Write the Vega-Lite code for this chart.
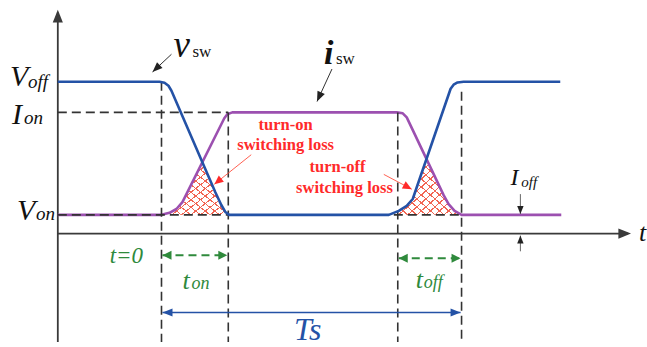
{
  "$schema": "https://vega.github.io/schema/vega-lite/v6.json",
  "width": 647,
  "height": 347,
  "autosize": {"type": "fit", "contains": "padding"},
  "padding": 0,
  "background": "white",
  "config": {"view": {"stroke": null}},
  "datasets": {
    "vsw": [
      {"t": -3.467, "v": 1.0}, {"t": -0.067, "v": 1.0}, {"t": 0.1, "v": 0.993}, {"t": 0.233, "v": 0.97},
      {"t": 0.333, "v": 0.933}, {"t": 1.8, "v": 0.17}, {"t": 2.0, "v": 0.074}, {"t": 2.133, "v": 0.022},
      {"t": 2.267, "v": 0}, {"t": 7.6, "v": 0}, {"t": 7.933, "v": 0.03}, {"t": 8.2, "v": 0.067},
      {"t": 8.4, "v": 0.119}, {"t": 9.667, "v": 0.948}, {"t": 9.767, "v": 0.978}, {"t": 9.9, "v": 0.995},
      {"t": 10.1, "v": 1.0}, {"t": 13.333, "v": 1.0}
    ],
    "isw": [
      {"t": -3.467, "v": 0}, {"t": 0, "v": 0}, {"t": 0.267, "v": 0.015}, {"t": 0.5, "v": 0.044},
      {"t": 0.7, "v": 0.096}, {"t": 2.1, "v": 0.726}, {"t": 2.2, "v": 0.756}, {"t": 2.367, "v": 0.77},
      {"t": 7.867, "v": 0.77}, {"t": 8.067, "v": 0.763}, {"t": 8.2, "v": 0.733}, {"t": 9.433, "v": 0.148},
      {"t": 9.6, "v": 0.081}, {"t": 9.8, "v": 0.03}, {"t": 10.033, "v": 0}, {"t": 13.367, "v": 0}
    ],
    "loss": [
      {"edge": "on", "t": 0, "v": 0}, {"edge": "on", "t": 0.267, "v": 0.015}, {"edge": "on", "t": 0.5, "v": 0.044},
      {"edge": "on", "t": 0.7, "v": 0.096}, {"edge": "on", "t": 1.367, "v": 0.396}, {"edge": "on", "t": 1.8, "v": 0.17},
      {"edge": "on", "t": 2.0, "v": 0.074}, {"edge": "on", "t": 2.133, "v": 0.022}, {"edge": "on", "t": 2.233, "v": 0},
      {"edge": "off", "t": 7.9, "v": 0.012}, {"edge": "off", "t": 7.933, "v": 0.03}, {"edge": "off", "t": 8.2, "v": 0.067},
      {"edge": "off", "t": 8.4, "v": 0.119}, {"edge": "off", "t": 8.86, "v": 0.42}, {"edge": "off", "t": 9.433, "v": 0.148},
      {"edge": "off", "t": 9.6, "v": 0.081}, {"edge": "off", "t": 9.8, "v": 0.03}, {"edge": "off", "t": 10.033, "v": 0}
    ],
    "rules": [
      {"kind": "axis", "t": -3.467, "v": -0.956, "t2": -3.467, "v2": 1.52},
      {"kind": "axis", "t": -3.467, "v": -0.141, "t2": 15.6, "v2": -0.141},
      {"kind": "guide", "t": -3.467, "v": 0.77, "t2": 2.233, "v2": 0.77},
      {"kind": "guide", "t": -3.467, "v": 0, "t2": 10.033, "v2": 0},
      {"kind": "guide", "t": 0, "v": 1.0, "t2": 0, "v2": -0.956},
      {"kind": "guide", "t": 2.233, "v": 0.77, "t2": 2.233, "v2": -0.956},
      {"kind": "guide", "t": 7.9, "v": 0.77, "t2": 7.9, "v2": -0.956},
      {"kind": "guide", "t": 10.033, "v": 0.926, "t2": 10.033, "v2": -0.956},
      {"kind": "pointer", "t": 0.333, "v": 1.207, "t2": -0.3, "v2": 1.074},
      {"kind": "pointer", "t": 5.7, "v": 1.096, "t2": 5.2, "v2": 0.852},
      {"kind": "marker", "t": 12.0, "v": 0.156, "t2": 12.0, "v2": 0.007},
      {"kind": "marker", "t": 12.0, "v": -0.274, "t2": 12.0, "v2": -0.156},
      {"kind": "callout", "t": 3.0, "v": 0.452, "t2": 1.767, "v2": 0.23},
      {"kind": "callout", "t": 7.433, "v": 0.304, "t2": 8.367, "v2": 0.193},
      {"kind": "switch", "t": 0.033, "v": -0.304, "t2": 2.2, "v2": -0.304},
      {"kind": "switch", "t": 7.933, "v": -0.326, "t2": 10.0, "v2": -0.326},
      {"kind": "period", "t": 0.033, "v": -0.733, "t2": 10.0, "v2": -0.733}
    ],
    "heads": [
      {"kind": "axis", "t": -3.467, "v": 1.541, "dir": 0},
      {"kind": "axis", "t": 15.7, "v": -0.141, "dir": 90},
      {"kind": "pointer", "t": -0.3, "v": 1.074, "dir": 226.5},
      {"kind": "pointer", "t": 5.2, "v": 0.852, "dir": 204.4},
      {"kind": "marker", "t": 12.0, "v": 0.007, "dir": 180},
      {"kind": "marker", "t": 12.0, "v": -0.156, "dir": 0},
      {"kind": "callout", "t": 1.767, "v": 0.23, "dir": 231},
      {"kind": "callout", "t": 8.367, "v": 0.193, "dir": 118},
      {"kind": "switch", "t": 0.033, "v": -0.304, "dir": 270},
      {"kind": "switch", "t": 2.2, "v": -0.304, "dir": 90},
      {"kind": "switch", "t": 7.933, "v": -0.326, "dir": 270},
      {"kind": "switch", "t": 10.0, "v": -0.326, "dir": 90},
      {"kind": "period", "t": 0.033, "v": -0.733, "dir": 270},
      {"kind": "period", "t": 10.0, "v": -0.733, "dir": 90}
    ],
    "labels": [
      {"role": "level", "t": -5.067, "v": 0.97, "s": "V"},
      {"role": "level", "t": -5.0, "v": 0.681, "s": "I"},
      {"role": "level", "t": -4.833, "v": -0.037, "s": "V"},
      {"role": "levelSub", "t": -4.467, "v": 0.956, "s": "off"},
      {"role": "levelSub", "t": -4.6, "v": 0.681, "s": "on"},
      {"role": "levelSub", "t": -4.2, "v": -0.037, "s": "on"},
      {"role": "voltage", "t": 0.4, "v": 1.185, "s": "v"},
      {"role": "current", "t": 5.433, "v": 1.133, "s": "i"},
      {"role": "signalSub", "t": 1.033, "v": 1.185, "s": "sw"},
      {"role": "signalSub", "t": 5.833, "v": 1.133, "s": "sw"},
      {"role": "leak", "t": 11.667, "v": 0.222, "s": "I"},
      {"role": "leakSub", "t": 12.033, "v": 0.207, "s": "off"},
      {"role": "axisName", "t": 15.967, "v": -0.2, "s": "t"},
      {"role": "origin", "t": -1.733, "v": -0.363, "s": "t=0"},
      {"role": "interval", "t": 0.7, "v": -0.556, "s": "t"},
      {"role": "interval", "t": 8.5, "v": -0.548, "s": "t"},
      {"role": "intervalSub", "t": 1.0, "v": -0.556, "s": "on"},
      {"role": "intervalSub", "t": 8.767, "v": -0.548, "s": "off"},
      {"role": "period", "t": 4.433, "v": -0.941, "s": "Ts"},
      {"role": "loss", "t": 4.15, "v": 0.637, "s": "turn-on"},
      {"role": "loss", "t": 4.15, "v": 0.489, "s": "switching loss"},
      {"role": "loss", "t": 5.883, "v": 0.319, "s": "turn-off"},
      {"role": "loss", "t": 6.117, "v": 0.163, "s": "switching loss"}
    ]
  },
  "encoding": {
    "x": {"field": "t", "type": "quantitative", "scale": {"domain": [-5.4, 16.1667], "nice": false, "zero": false}, "axis": null},
    "y": {"field": "v", "type": "quantitative", "scale": {"domain": [-0.9556, 1.6148], "nice": false, "zero": false}, "axis": null}
  },
  "layer": [
    {
      "data": {"name": "loss"},
      "mark": {"type": "area", "strokeWidth": 0, "fill": {"gradient": "linear", "x1": 0, "y1": 0, "x2": 1, "y2": 1, "stops": [
        {"offset": 0, "color": "#f26552"}, {"offset": 0.012, "color": "#f26552"}, {"offset": 0.012, "color": "rgba(255,255,255,0)"}, {"offset": 0.0714, "color": "rgba(255,255,255,0)"},
        {"offset": 0.0714, "color": "#f26552"}, {"offset": 0.0834, "color": "#f26552"}, {"offset": 0.0834, "color": "rgba(255,255,255,0)"}, {"offset": 0.1429, "color": "rgba(255,255,255,0)"},
        {"offset": 0.1429, "color": "#f26552"}, {"offset": 0.1549, "color": "#f26552"}, {"offset": 0.1549, "color": "rgba(255,255,255,0)"}, {"offset": 0.2143, "color": "rgba(255,255,255,0)"},
        {"offset": 0.2143, "color": "#f26552"}, {"offset": 0.2263, "color": "#f26552"}, {"offset": 0.2263, "color": "rgba(255,255,255,0)"}, {"offset": 0.2857, "color": "rgba(255,255,255,0)"},
        {"offset": 0.2857, "color": "#f26552"}, {"offset": 0.2977, "color": "#f26552"}, {"offset": 0.2977, "color": "rgba(255,255,255,0)"}, {"offset": 0.3571, "color": "rgba(255,255,255,0)"},
        {"offset": 0.3571, "color": "#f26552"}, {"offset": 0.3691, "color": "#f26552"}, {"offset": 0.3691, "color": "rgba(255,255,255,0)"}, {"offset": 0.4286, "color": "rgba(255,255,255,0)"},
        {"offset": 0.4286, "color": "#f26552"}, {"offset": 0.4406, "color": "#f26552"}, {"offset": 0.4406, "color": "rgba(255,255,255,0)"}, {"offset": 0.5, "color": "rgba(255,255,255,0)"},
        {"offset": 0.5, "color": "#f26552"}, {"offset": 0.512, "color": "#f26552"}, {"offset": 0.512, "color": "rgba(255,255,255,0)"}, {"offset": 0.5714, "color": "rgba(255,255,255,0)"},
        {"offset": 0.5714, "color": "#f26552"}, {"offset": 0.5834, "color": "#f26552"}, {"offset": 0.5834, "color": "rgba(255,255,255,0)"}, {"offset": 0.6429, "color": "rgba(255,255,255,0)"},
        {"offset": 0.6429, "color": "#f26552"}, {"offset": 0.6549, "color": "#f26552"}, {"offset": 0.6549, "color": "rgba(255,255,255,0)"}, {"offset": 0.7143, "color": "rgba(255,255,255,0)"},
        {"offset": 0.7143, "color": "#f26552"}, {"offset": 0.7263, "color": "#f26552"}, {"offset": 0.7263, "color": "rgba(255,255,255,0)"}, {"offset": 0.7857, "color": "rgba(255,255,255,0)"},
        {"offset": 0.7857, "color": "#f26552"}, {"offset": 0.7977, "color": "#f26552"}, {"offset": 0.7977, "color": "rgba(255,255,255,0)"}, {"offset": 0.8571, "color": "rgba(255,255,255,0)"},
        {"offset": 0.8571, "color": "#f26552"}, {"offset": 0.8691, "color": "#f26552"}, {"offset": 0.8691, "color": "rgba(255,255,255,0)"}, {"offset": 0.9286, "color": "rgba(255,255,255,0)"},
        {"offset": 0.9286, "color": "#f26552"}, {"offset": 0.9406, "color": "#f26552"}, {"offset": 0.9406, "color": "rgba(255,255,255,0)"}, {"offset": 1, "color": "rgba(255,255,255,0)"}
      ]}},
      "encoding": {"y2": {"datum": 0}, "detail": {"field": "edge"}}
    },
    {
      "data": {"name": "loss"},
      "mark": {"type": "area", "strokeWidth": 0, "fill": {"gradient": "linear", "x1": 0, "y1": 1, "x2": 1, "y2": 0, "stops": [
        {"offset": 0, "color": "#f26552"}, {"offset": 0.012, "color": "#f26552"}, {"offset": 0.012, "color": "rgba(255,255,255,0)"}, {"offset": 0.0714, "color": "rgba(255,255,255,0)"},
        {"offset": 0.0714, "color": "#f26552"}, {"offset": 0.0834, "color": "#f26552"}, {"offset": 0.0834, "color": "rgba(255,255,255,0)"}, {"offset": 0.1429, "color": "rgba(255,255,255,0)"},
        {"offset": 0.1429, "color": "#f26552"}, {"offset": 0.1549, "color": "#f26552"}, {"offset": 0.1549, "color": "rgba(255,255,255,0)"}, {"offset": 0.2143, "color": "rgba(255,255,255,0)"},
        {"offset": 0.2143, "color": "#f26552"}, {"offset": 0.2263, "color": "#f26552"}, {"offset": 0.2263, "color": "rgba(255,255,255,0)"}, {"offset": 0.2857, "color": "rgba(255,255,255,0)"},
        {"offset": 0.2857, "color": "#f26552"}, {"offset": 0.2977, "color": "#f26552"}, {"offset": 0.2977, "color": "rgba(255,255,255,0)"}, {"offset": 0.3571, "color": "rgba(255,255,255,0)"},
        {"offset": 0.3571, "color": "#f26552"}, {"offset": 0.3691, "color": "#f26552"}, {"offset": 0.3691, "color": "rgba(255,255,255,0)"}, {"offset": 0.4286, "color": "rgba(255,255,255,0)"},
        {"offset": 0.4286, "color": "#f26552"}, {"offset": 0.4406, "color": "#f26552"}, {"offset": 0.4406, "color": "rgba(255,255,255,0)"}, {"offset": 0.5, "color": "rgba(255,255,255,0)"},
        {"offset": 0.5, "color": "#f26552"}, {"offset": 0.512, "color": "#f26552"}, {"offset": 0.512, "color": "rgba(255,255,255,0)"}, {"offset": 0.5714, "color": "rgba(255,255,255,0)"},
        {"offset": 0.5714, "color": "#f26552"}, {"offset": 0.5834, "color": "#f26552"}, {"offset": 0.5834, "color": "rgba(255,255,255,0)"}, {"offset": 0.6429, "color": "rgba(255,255,255,0)"},
        {"offset": 0.6429, "color": "#f26552"}, {"offset": 0.6549, "color": "#f26552"}, {"offset": 0.6549, "color": "rgba(255,255,255,0)"}, {"offset": 0.7143, "color": "rgba(255,255,255,0)"},
        {"offset": 0.7143, "color": "#f26552"}, {"offset": 0.7263, "color": "#f26552"}, {"offset": 0.7263, "color": "rgba(255,255,255,0)"}, {"offset": 0.7857, "color": "rgba(255,255,255,0)"},
        {"offset": 0.7857, "color": "#f26552"}, {"offset": 0.7977, "color": "#f26552"}, {"offset": 0.7977, "color": "rgba(255,255,255,0)"}, {"offset": 0.8571, "color": "rgba(255,255,255,0)"},
        {"offset": 0.8571, "color": "#f26552"}, {"offset": 0.8691, "color": "#f26552"}, {"offset": 0.8691, "color": "rgba(255,255,255,0)"}, {"offset": 0.9286, "color": "rgba(255,255,255,0)"},
        {"offset": 0.9286, "color": "#f26552"}, {"offset": 0.9406, "color": "#f26552"}, {"offset": 0.9406, "color": "rgba(255,255,255,0)"}, {"offset": 1, "color": "rgba(255,255,255,0)"}
      ]}},
      "encoding": {"y2": {"datum": 0}, "detail": {"field": "edge"}}
    },
    {
      "data": {"name": "rules"},
      "transform": [{"filter": "datum.kind === 'axis'"}],
      "mark": {"type": "rule", "color": "#3a3a3a", "strokeWidth": 1.8},
      "encoding": {"x2": {"field": "t2"}, "y2": {"field": "v2"}}
    },
    {
      "data": {"name": "isw"},
      "mark": {"type": "line", "color": "#9c50b0", "strokeWidth": 2.6, "strokeJoin": "round"},
      "encoding": {}
    },
    {
      "data": {"name": "rules"},
      "transform": [{"filter": "datum.kind === 'guide'"}],
      "mark": {"type": "rule", "color": "#333333", "strokeWidth": 1.6, "strokeDash": [9, 5]},
      "encoding": {"x2": {"field": "t2"}, "y2": {"field": "v2"}}
    },
    {
      "data": {"name": "vsw"},
      "mark": {"type": "line", "color": "#2452a6", "strokeWidth": 2.6, "strokeJoin": "round"},
      "encoding": {}
    },
    {
      "data": {"name": "rules"},
      "transform": [{"filter": "datum.kind === 'pointer'"}],
      "mark": {"type": "rule", "color": "#333333", "strokeWidth": 1},
      "encoding": {"x2": {"field": "t2"}, "y2": {"field": "v2"}}
    },
    {
      "data": {"name": "rules"},
      "transform": [{"filter": "datum.kind === 'marker'"}],
      "mark": {"type": "rule", "color": "#666666", "strokeWidth": 1},
      "encoding": {"x2": {"field": "t2"}, "y2": {"field": "v2"}}
    },
    {
      "data": {"name": "rules"},
      "transform": [{"filter": "datum.kind === 'callout'"}],
      "mark": {"type": "rule", "color": "#ff5040", "strokeWidth": 0.9},
      "encoding": {"x2": {"field": "t2"}, "y2": {"field": "v2"}}
    },
    {
      "data": {"name": "rules"},
      "transform": [{"filter": "datum.kind === 'switch'"}],
      "mark": {"type": "rule", "color": "#2f8a3c", "strokeWidth": 2, "strokeDash": [8, 5]},
      "encoding": {"x2": {"field": "t2"}, "y2": {"field": "v2"}}
    },
    {
      "data": {"name": "rules"},
      "transform": [{"filter": "datum.kind === 'period'"}],
      "mark": {"type": "rule", "color": "#2452a6", "strokeWidth": 1.5},
      "encoding": {"x2": {"field": "t2"}, "y2": {"field": "v2"}}
    },
    {
      "data": {"name": "heads"},
      "transform": [{"filter": "datum.kind === 'axis'"}],
      "mark": {"type": "point", "shape": "M0,0L-0.4,1L0.4,1Z", "filled": true, "opacity": 1, "size": 640, "color": "#3a3a3a", "strokeWidth": 0},
      "encoding": {"angle": {"field": "dir", "type": "quantitative", "scale": {"domain": [0, 360], "range": [0, 360]}}}
    },
    {
      "data": {"name": "heads"},
      "transform": [{"filter": "datum.kind === 'pointer'"}],
      "mark": {"type": "point", "shape": "M0,0L-0.4,1L0.4,1Z", "filled": true, "opacity": 1, "size": 400, "color": "#222222", "strokeWidth": 0},
      "encoding": {"angle": {"field": "dir", "type": "quantitative", "scale": {"domain": [0, 360], "range": [0, 360]}}}
    },
    {
      "data": {"name": "heads"},
      "transform": [{"filter": "datum.kind === 'marker'"}],
      "mark": {"type": "point", "shape": "M0,0L-0.4,1L0.4,1Z", "filled": true, "opacity": 1, "size": 256, "color": "#222222", "strokeWidth": 0},
      "encoding": {"angle": {"field": "dir", "type": "quantitative", "scale": {"domain": [0, 360], "range": [0, 360]}}}
    },
    {
      "data": {"name": "heads"},
      "transform": [{"filter": "datum.kind === 'callout'"}],
      "mark": {"type": "point", "shape": "M0,0L-0.45,1L0.45,1Z", "filled": true, "opacity": 1, "size": 324, "color": "#ff2a2a", "strokeWidth": 0},
      "encoding": {"angle": {"field": "dir", "type": "quantitative", "scale": {"domain": [0, 360], "range": [0, 360]}}}
    },
    {
      "data": {"name": "heads"},
      "transform": [{"filter": "datum.kind === 'switch'"}],
      "mark": {"type": "point", "shape": "M0,0L-0.5,1L0.5,1Z", "filled": true, "opacity": 1, "size": 324, "color": "#2f8a3c", "strokeWidth": 0},
      "encoding": {"angle": {"field": "dir", "type": "quantitative", "scale": {"domain": [0, 360], "range": [0, 360]}}}
    },
    {
      "data": {"name": "heads"},
      "transform": [{"filter": "datum.kind === 'period'"}],
      "mark": {"type": "point", "shape": "M0,0L-0.4,1L0.4,1Z", "filled": true, "opacity": 1, "size": 400, "color": "#2452a6", "strokeWidth": 0},
      "encoding": {"angle": {"field": "dir", "type": "quantitative", "scale": {"domain": [0, 360], "range": [0, 360]}}}
    },
    {
      "data": {"name": "labels"},
      "transform": [{"filter": "datum.role === 'level'"}],
      "mark": {"type": "text", "font": "Liberation Serif", "fontStyle": "italic", "fontSize": 30, "color": "#111111", "align": "left", "baseline": "alphabetic"},
      "encoding": {"text": {"field": "s"}}
    },
    {
      "data": {"name": "labels"},
      "transform": [{"filter": "datum.role === 'levelSub'"}],
      "mark": {"type": "text", "font": "Liberation Serif", "fontStyle": "italic", "fontSize": 19, "color": "#111111", "align": "left", "baseline": "alphabetic"},
      "encoding": {"text": {"field": "s"}}
    },
    {
      "data": {"name": "labels"},
      "transform": [{"filter": "datum.role === 'voltage'"}],
      "mark": {"type": "text", "font": "Liberation Serif", "fontStyle": "italic", "fontSize": 37, "color": "#111111", "align": "left", "baseline": "alphabetic"},
      "encoding": {"text": {"field": "s"}}
    },
    {
      "data": {"name": "labels"},
      "transform": [{"filter": "datum.role === 'current'"}],
      "mark": {"type": "text", "font": "Liberation Serif", "fontStyle": "italic", "fontWeight": "bold", "fontSize": 34, "color": "#111111", "align": "left", "baseline": "alphabetic"},
      "encoding": {"text": {"field": "s"}}
    },
    {
      "data": {"name": "labels"},
      "transform": [{"filter": "datum.role === 'signalSub'"}],
      "mark": {"type": "text", "font": "Liberation Serif", "fontSize": 17, "color": "#111111", "align": "left", "baseline": "alphabetic"},
      "encoding": {"text": {"field": "s"}}
    },
    {
      "data": {"name": "labels"},
      "transform": [{"filter": "datum.role === 'leak'"}],
      "mark": {"type": "text", "font": "Liberation Serif", "fontStyle": "italic", "fontSize": 24, "color": "#111111", "align": "left", "baseline": "alphabetic"},
      "encoding": {"text": {"field": "s"}}
    },
    {
      "data": {"name": "labels"},
      "transform": [{"filter": "datum.role === 'leakSub'"}],
      "mark": {"type": "text", "font": "Liberation Serif", "fontStyle": "italic", "fontSize": 15, "color": "#111111", "align": "left", "baseline": "alphabetic"},
      "encoding": {"text": {"field": "s"}}
    },
    {
      "data": {"name": "labels"},
      "transform": [{"filter": "datum.role === 'axisName'"}],
      "mark": {"type": "text", "font": "Liberation Serif", "fontStyle": "italic", "fontSize": 26, "color": "#111111", "align": "left", "baseline": "alphabetic"},
      "encoding": {"text": {"field": "s"}}
    },
    {
      "data": {"name": "labels"},
      "transform": [{"filter": "datum.role === 'origin'"}],
      "mark": {"type": "text", "font": "Liberation Serif", "fontStyle": "italic", "fontSize": 23, "color": "#2f8a3c", "align": "left", "baseline": "alphabetic"},
      "encoding": {"text": {"field": "s"}}
    },
    {
      "data": {"name": "labels"},
      "transform": [{"filter": "datum.role === 'interval'"}],
      "mark": {"type": "text", "font": "Liberation Serif", "fontStyle": "italic", "fontSize": 26, "color": "#2f8a3c", "align": "left", "baseline": "alphabetic"},
      "encoding": {"text": {"field": "s"}}
    },
    {
      "data": {"name": "labels"},
      "transform": [{"filter": "datum.role === 'intervalSub'"}],
      "mark": {"type": "text", "font": "Liberation Serif", "fontStyle": "italic", "fontSize": 18, "color": "#2f8a3c", "align": "left", "baseline": "alphabetic"},
      "encoding": {"text": {"field": "s"}}
    },
    {
      "data": {"name": "labels"},
      "transform": [{"filter": "datum.role === 'period'"}],
      "mark": {"type": "text", "font": "Liberation Serif", "fontStyle": "italic", "fontSize": 32, "color": "#2452a6", "align": "left", "baseline": "alphabetic"},
      "encoding": {"text": {"field": "s"}}
    },
    {
      "data": {"name": "labels"},
      "transform": [{"filter": "datum.role === 'loss'"}],
      "mark": {"type": "text", "font": "Liberation Serif", "fontWeight": "bold", "fontSize": 16.5, "color": "#ff2a2a", "align": "center", "baseline": "alphabetic"},
      "encoding": {"text": {"field": "s"}}
    }
  ]
}
